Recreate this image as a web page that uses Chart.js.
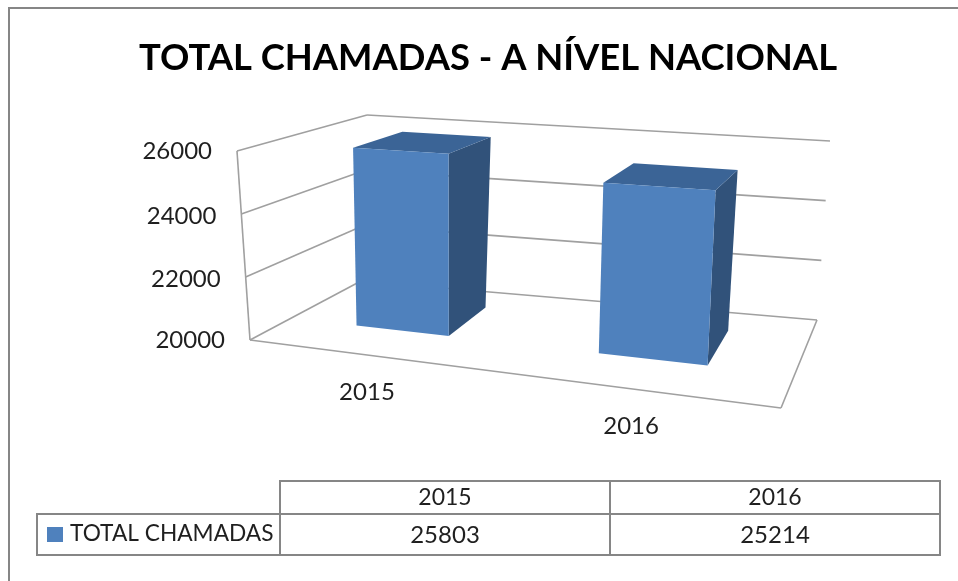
<!DOCTYPE html>
<html><head><meta charset="utf-8">
<style>html,body{margin:0;padding:0;background:#fff}canvas{display:block}</style>
<script src="https://cdn.jsdelivr.net/npm/chart.js@4"></script>
</head><body><canvas id="c" width="958" height="581"></canvas>
<script>
const categories = ['2015', '2016'];
const seriesName = 'TOTAL CHAMADAS';
const seriesValues = [25803, 25214];
const yTicks = [20000, 22000, 24000, 26000];
const chartTitle = 'TOTAL CHAMADAS - A NÍVEL NACIONAL';

const FONT = 'Lato, "Open Sans", sans-serif';
const GRID = '#a0a0a0', LINE = '#868686', TEXT = '#1f1f1f';
const FRONT = '#4f81bd', TOP = '#3b6496', SIDE = '#31527a';

// Corners of the 3D plot box on the page: [u][v][d]
const BOX = {
  '000':[250,340], '100':[781,408], '010':[237,151], '110':[793,186],
  '001':[361,281], '101':[817,320], '011':[367,115], '111':[830,141]
};
const PERSP = 1.18, D0 = 0.37, D1 = 0.79;
const warp = u => u / (PERSP + (1 - PERSP) * u);
function P(u, v, d) {
  const s = warp(u), out = [0, 0];
  for (const k of [0, 1]) {
    const L = (a, b, t) => a + (b - a) * t, c = n => BOX[n][k];
    out[k] = L(
      L(L(c('000'), c('100'), s), L(c('010'), c('110'), s), v),
      L(L(c('001'), c('101'), s), L(c('011'), c('111'), s), v), d);
  }
  return out;
}
function seg(ctx, a, b) { ctx.beginPath(); ctx.moveTo(a[0], a[1]); ctx.lineTo(b[0], b[1]); ctx.stroke(); }
function poly(ctx, pts, col) {
  ctx.fillStyle = col; ctx.beginPath();
  pts.forEach((p, i) => i ? ctx.lineTo(p[0], p[1]) : ctx.moveTo(p[0], p[1]));
  ctx.closePath(); ctx.fill();
}

const box3d = {
  id: 'box3d',
  beforeDatasetsDraw(chart) {
    const { ctx, scales: { y } } = chart;
    ctx.save();
    ctx.strokeStyle = GRID; ctx.lineWidth = 1.6;
    ctx.fillStyle = TEXT; ctx.font = '24px ' + FONT;
    ctx.textAlign = 'right'; ctx.textBaseline = 'middle';
    const vOf = val => (y.bottom - y.getPixelForValue(val)) / (y.bottom - y.top);
    y.ticks.forEach(t => {
      const v = vOf(t.value);
      seg(ctx, P(0, v, 0), P(0, v, 1));
      seg(ctx, P(0, v, 1), P(1, v, 1));
      const p = P(0, v, 0);
      const mid = v > 0.01 && v < 0.99 ? 2 : 0;
      ctx.fillText(String(t.value), p[0] - 25, p[1] + mid);
    });
    seg(ctx, P(0, 0, 0), P(0, 1, 0));
    seg(ctx, P(0, 0, 0), P(1, 0, 0));
    seg(ctx, P(1, 0, 0), P(1, 0, 1));
    ctx.restore();
  },
  afterDatasetsDraw(chart) {
    const { ctx, chartArea: a, scales: { x, y } } = chart;
    const w = a.right - a.left;
    const meta = chart.getDatasetMeta(0);
    meta.data.forEach(bar => {
      const u0 = (bar.x - bar.width / 2 - a.left) / w, u1 = (bar.x + bar.width / 2 - a.left) / w;
      const v = (y.bottom - bar.y) / (y.bottom - y.top);
      poly(ctx, [P(u1,0,D0), P(u1,0,D1), P(u1,v,D1), P(u1,v,D0)], SIDE);
      poly(ctx, [P(u0,v,D0), P(u1,v,D0), P(u1,v,D1), P(u0,v,D1)], TOP);
      poly(ctx, [P(u0,0,D0), P(u1,0,D0), P(u1,v,D0), P(u0,v,D0)], FRONT);
    });
    // category labels on the front of the floor
    ctx.save();
    ctx.fillStyle = TEXT; ctx.font = '24px ' + FONT;
    ctx.textAlign = 'center'; ctx.textBaseline = 'middle';
    categories.forEach((c, i) => {
      const u = (x.getPixelForValue(i) - a.left) / w;
      const p = P(u, 0, 0);
      ctx.fillText(c, p[0], p[1] + 37);
    });
    ctx.restore();
  },
  afterDraw(chart) {
    const { ctx } = chart;
    ctx.save();
    ctx.strokeStyle = LINE; ctx.lineWidth = 2;
    ctx.strokeRect(9, 8, 990, 700);
    // data table
    const X = [37, 280, 610, 940], Y = [481, 514, 555];
    ctx.strokeRect(X[1], Y[0], X[3] - X[1], Y[2] - Y[0]);
    ctx.strokeRect(X[0], Y[1], X[3] - X[0], Y[2] - Y[1]);
    seg(ctx, [X[2], Y[0]], [X[2], Y[2]]);
    ctx.fillStyle = FRONT; ctx.fillRect(47, 527, 16, 15);
    ctx.fillStyle = TEXT; ctx.font = '22.7px ' + FONT;
    ctx.textBaseline = 'middle'; ctx.textAlign = 'left';
    ctx.fillText(seriesName, 70, 534);
    ctx.textAlign = 'center';
    categories.forEach((c, i) => {
      const cx = (X[i + 1] + X[i + 2]) / 2;
      ctx.font = '23px ' + FONT;
      ctx.fillText(c, cx, 498);
      ctx.font = '24px ' + FONT;
      ctx.fillText(String(seriesValues[i]), cx, 535);
    });
    ctx.restore();
  }
};

new Chart(document.getElementById('c'), {
  type: 'bar',
  data: { labels: categories, datasets: [{ label: seriesName, data: seriesValues,
    backgroundColor: 'rgba(0,0,0,0)', barPercentage: 0.4, categoryPercentage: 1 }] },
  plugins: [box3d],
  options: {
    responsive: false, animation: false,
    layout: { autoPadding: false, padding: { left: 18, right: 0, top: 0, bottom: 241 } },
    plugins: {
      legend: { display: false }, tooltip: { enabled: false },
      title: { display: true, text: chartTitle, color: '#000',
        font: { family: FONT, size: 36.4, weight: 'bold' }, padding: { top: 36, bottom: 71.3 } }
    },
    scales: {
      x: { display: false, offset: true, grid: { display: false } },
      y: { min: 20000, max: 26000, afterFit: s => { s.width = 207; },
        afterBuildTicks: s => { s.ticks = yTicks.map(value => ({ value })); },
        grid: { display: false }, border: { display: false },
        ticks: { display: false } }
    }
  }
});
</script></body></html>
